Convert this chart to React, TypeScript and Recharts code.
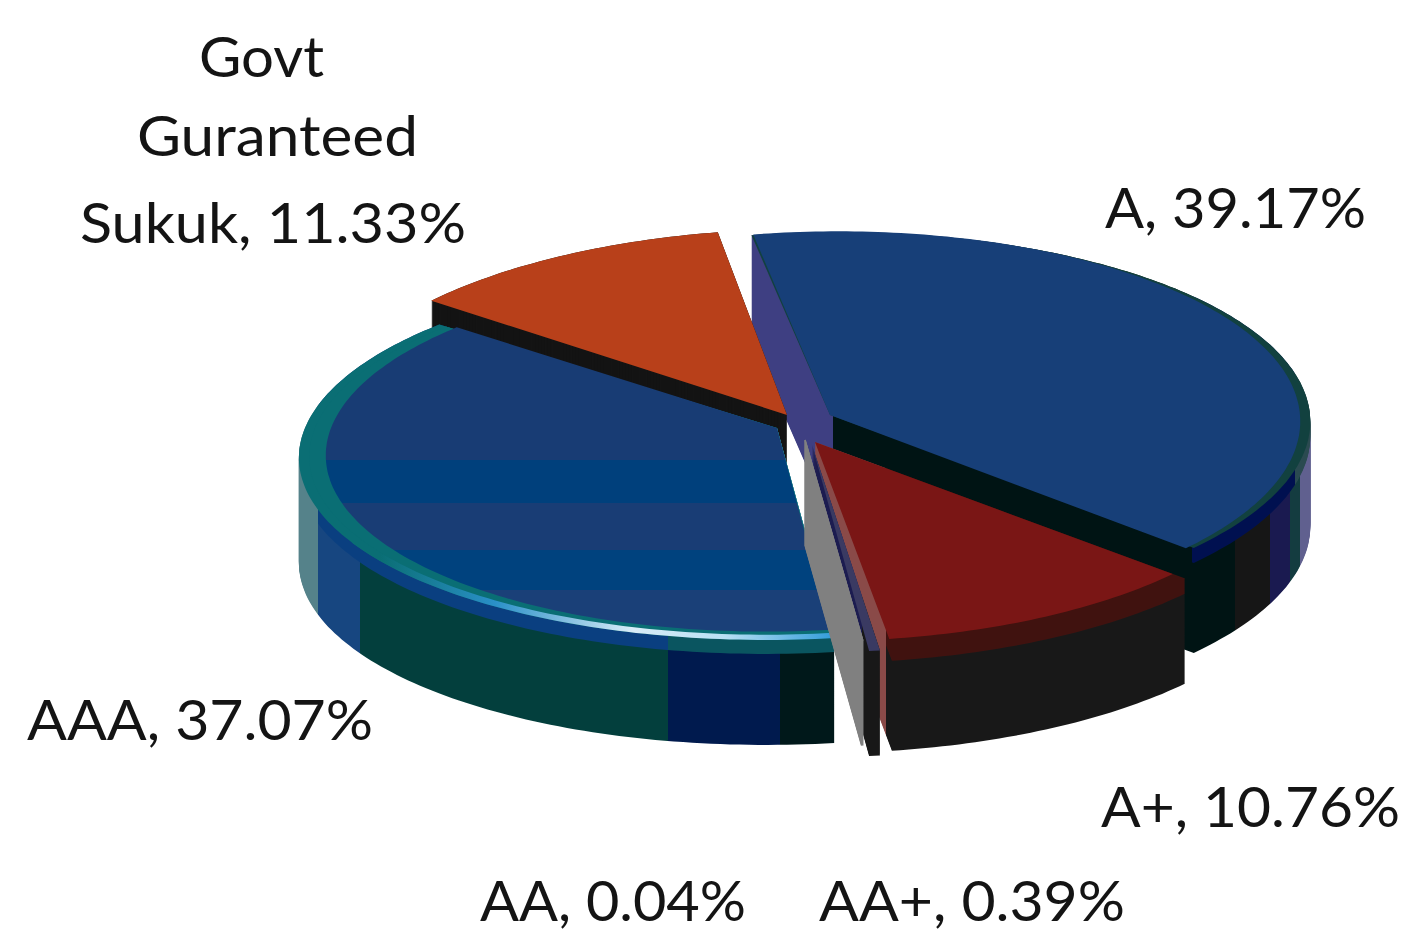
import React from 'react';
import { PieChart, Pie } from 'recharts';

const sliceNames = ['A', 'A+', 'AA+', 'AA', 'AAA', 'Govt Guranteed Sukuk'];
const sliceValues = [39.17, 10.76, 0.39, 0.04, 37.07, 11.33];
const pieData = sliceNames.map((name, i) => ({ name, value: sliceValues[i] }));

const labelLines = [
  { text: 'Govt', x: 199, y: 77, w: 125 },
  { text: 'Guranteed', x: 137, y: 156, w: 281 },
  { text: 'Sukuk, 11.33%', x: 80, y: 243, w: 386 },
  { text: 'A, 39.17%', x: 1105, y: 228, w: 261 },
  { text: 'AAA, 37.07%', x: 27, y: 740, w: 346 },
  { text: 'A+, 10.76%', x: 1101, y: 827, w: 299 },
  { text: 'AA, 0.04%', x: 480, y: 921, w: 266 },
  { text: 'AA+, 0.39%', x: 819, y: 921, w: 306 },
];

const START = 100.8;

// x, y: apex of the slice on screen, r: radius, k: squash, p: perspective, s: shear
const geometry: Record<string, any> = {
  A: { x: 830, y: 415, r: 480, k: 0.4, p: 0.05, s: 0.04, depth: 105, bevelDepth: 15, side: 'url(#sideA)', bevel: 'url(#bevelA)',
    caps: [{ r: 480, fill: '#12413f' }, { r: 470, k: 0.41, fill: '#173f78' }] },
  'A+': { x: 815, y: 442, r: 488, k: 0.41, p: 0.03, s: 0, depth: 105, bevelDepth: 15, side: 'url(#sideRed)', bevel: 'url(#bevelRed)',
    caps: [{ r: 472, fill: '#7a1615' }] },
  'AA+': { x: 812, y: 445, r: 445, k: 0.467, p: 0, s: 0, depth: 105, bevelDepth: 0, side: 'url(#sideAAplus)', bevel: 'url(#sideAAplus)',
    caps: [{ r: 445, fill: '#3a3a62' }] },
  AA: { x: 805, y: 440, r: 449, k: 0.449, p: 0, s: 0, depth: 105, bevelDepth: 0, side: '#808080', bevel: '#808080', hairline: true,
    caps: [{ r: 449, fill: '#808080' }] },
  AAA: { x: 777, y: 428, r: 472, k: 0.387, p: 0.138, s: 0.055, depth: 105, bevelDepth: 14, side: 'url(#sideAAA)', bevel: 'url(#bevelAAA)',
    caps: [
      { r: 472, fill: '#0a6e74' },
      { r: 472, fill: 'url(#shine)', sweep: 62 },
      { r: 462, fill: '#0a6e74' },
      { r: 446, k: 0.397, fill: 'url(#capAAA)' },
    ] },
  'Govt Guranteed Sukuk': { x: 787, y: 415, r: 465, k: 0.4, p: 0, s: 0.098, depth: 105, bevelDepth: 0, side: '#141414', bevel: '#141414',
    caps: [{ r: 465, fill: '#b8401a' }] },
};

// back to front
const paintOrder = ['A', 'Govt Guranteed Sukuk', 'AAA', 'A+', 'AA+', 'AA'];

const project = (g: any, k: number, deg: number, r: number, drop: number) => {
  const t = (deg * Math.PI) / 180;
  const u = r * Math.cos(t);
  const v = r * Math.sin(t);
  const f = 1 / (1 + (g.p * v) / g.r);
  const up = v * k * f;
  return `${(g.x + u * f + g.s * up).toFixed(1)} ${(g.y - up + drop).toFixed(1)}`;
};

const wedge = (g: any, k: number, start: number, end: number, r: number, drop: number) => {
  const pts = [`${g.x} ${g.y + drop}`];
  const steps = Math.max(1, Math.ceil(Math.abs(start - end)));
  for (let i = 0; i <= steps; i++) {
    pts.push(project(g, k, start + ((end - start) * i) / steps, r, drop));
  }
  return `M${pts.join('L')}Z`;
};

const sliceShape = (name: string) => (props: any) => {
  if (props.name !== name) return <g />;
  const g = geometry[name];
  const { startAngle, endAngle } = props;
  const line = g.hairline ? { stroke: g.side, strokeWidth: 1.5 } : {};
  const layers = [];
  for (let d = g.depth; d >= 0; d -= 1) {
    layers.push(
      <path key={d} d={wedge(g, g.k, startAngle, endAngle, g.r, d)} fill={d <= g.bevelDepth ? g.bevel : g.side} {...line} />
    );
  }
  return (
    <g>
      {layers}
      {g.caps.map((c: any, i: number) => (
        <path
          key={i}
          d={wedge(g, c.k ?? g.k, startAngle, c.sweep ? startAngle - c.sweep : endAngle, c.r, 0)}
          fill={c.fill}
          {...line}
        />
      ))}
    </g>
  );
};

// flat colour bands across the chart, as in the posterised original
const bands = (id: string, vertical: boolean, from: number, to: number, list: [number, string][]) => {
  const pos = (v: number) => `${(((v - from) / (to - from)) * 100).toFixed(2)}%`;
  const stops: React.ReactNode[] = [];
  list.forEach(([end, color], i) => {
    const begin = i === 0 ? from : list[i - 1][0];
    stops.push(<stop key={`${i}a`} offset={pos(begin)} stopColor={color} />);
    stops.push(<stop key={`${i}b`} offset={pos(end)} stopColor={color} />);
  });
  return (
    <linearGradient
      id={id}
      gradientUnits="userSpaceOnUse"
      x1={vertical ? 0 : from}
      x2={vertical ? 0 : to}
      y1={vertical ? from : 0}
      y2={vertical ? to : 0}
    >
      {stops}
    </linearGradient>
  );
};

export default function App() {
  return (
    <div style={{ position: 'absolute', left: 0, top: 0, width: 1405, height: 932, overflow: 'hidden', background: '#fff' }}>
      <PieChart width={1405} height={932} margin={{ top: 0, right: 0, bottom: 0, left: 0 }}>
        <defs>
          {bands('sideA', false, 740, 1320, [[833, '#3e3f82'], [1235, '#001414'], [1270, '#161616'], [1290, '#1a1a50'], [1300, '#143c40'], [1320, '#60608f']])}
          {bands('bevelA', false, 740, 1320, [[833, '#3e3f82'], [1192, '#001414'], [1295, '#001050'], [1320, '#2a4a50']])}
          {bands('sideRed', false, 800, 1200, [[886, '#8a4a48'], [1200, '#181818']])}
          {bands('bevelRed', false, 800, 1200, [[886, '#8a4a48'], [1200, '#40120f']])}
          {bands('sideAAplus', false, 800, 900, [[862, '#1c1c50'], [900, '#181818']])}
          {bands('sideAAA', false, 290, 840, [[318, '#55828a'], [360, '#174680'], [668, '#033f3d'], [780, '#001a4e'], [840, '#00181a']])}
          {bands('bevelAAA', false, 290, 840, [[318, '#55828a'], [668, '#0a3f80'], [840, '#0a5560']])}
          {bands('capAAA', true, 300, 660, [[460, '#183c74'], [503, '#00407c'], [550, '#193d75'], [590, '#00427e'], [660, '#1a4078']])}
          <linearGradient id="shine" gradientUnits="userSpaceOnUse" x1={380} x2={840} y1={0} y2={0}>
            <stop offset="0%" stopColor="#0a6e74" />
            <stop offset="25%" stopColor="#2a90c8" />
            <stop offset="55%" stopColor="#d8ecf8" />
            <stop offset="75%" stopColor="#b8e0f4" />
            <stop offset="100%" stopColor="#2a98d8" />
          </linearGradient>
        </defs>
        {paintOrder.map((name) => (
          <Pie
            key={name}
            data={pieData}
            dataKey="value"
            nameKey="name"
            cx={700}
            cy={466}
            outerRadius={450}
            startAngle={START}
            endAngle={START - 360}
            stroke="none"
            label={false}
            labelLine={false}
            isAnimationActive={false}
            shape={sliceShape(name)}
          />
        ))}
        {labelLines.map((l) => (
          <text
            key={l.text}
            x={l.x}
            y={l.y}
            textLength={l.w}
            lengthAdjust="spacingAndGlyphs"
            fontFamily="Lato, 'Open Sans', sans-serif"
            fontSize={56}
            fill="#141414"
          >
            {l.text}
          </text>
        ))}
      </PieChart>
    </div>
  );
}
